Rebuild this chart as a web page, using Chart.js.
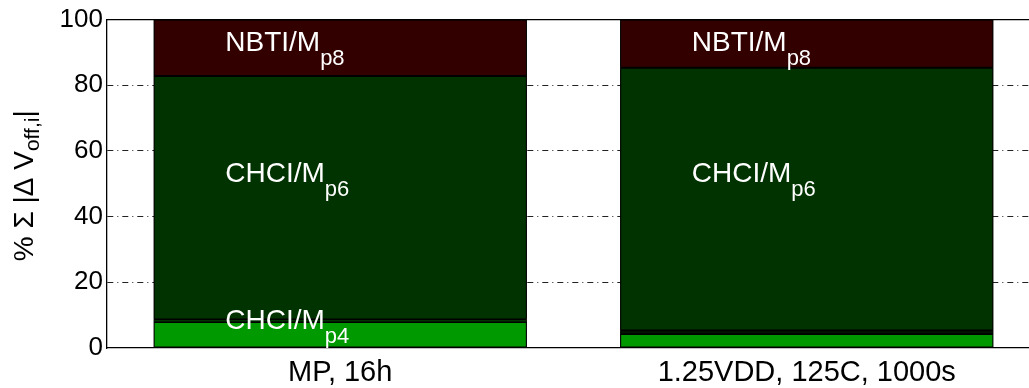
<!DOCTYPE html>
<html>
<head>
<meta charset="utf-8">
<script src="https://cdn.jsdelivr.net/npm/chart.js@4"></script>
<style>
  html, body { margin: 0; padding: 0; overflow: hidden; background: #fff; }
  #wrap { width: 1040px; height: 388px; }
  canvas { display: block; }
</style>
</head>
<body>
<div id="wrap"><canvas id="c" width="1040" height="388" style="width:1040px;height:388px"></canvas></div>
<script>
// Share of the summed |ΔV_off,i| per contributor, in percent
const categories = ['MP, 16h', '1.25VDD, 125C, 1000s'];
const chciMp4 = [7.9, 4.3];
const otherShare = [0.8, 1.0];
const chciMp6 = [74.1, 80.0];
const nbtiMp8 = [17.2, 14.7];
const yTicks = [0, 20, 40, 60, 80, 100];

const FONT = '"Liberation Sans", Arial, Helvetica, sans-serif';

// In-bar annotations: bar index and baseline height in axis units
const segmentLabels = [
  { bar: 0, y: 90.4, main: 'NBTI/M', sub: 'p8' },
  { bar: 1, y: 90.4, main: 'NBTI/M', sub: 'p8' },
  { bar: 0, y: 50.4, main: 'CHCI/M', sub: 'p6' },
  { bar: 1, y: 50.4, main: 'CHCI/M', sub: 'p6' },
  { bar: 0, y: 5.85, main: 'CHCI/M', sub: 'p4' }
];

const series = [chciMp4, otherShare, chciMp6, nbtiMp8];

// dark backing behind each stacked column so segment seams render as black edges
const columnBacking = {
  id: 'columnBacking',
  beforeDatasetsDraw(chart) {
    const { ctx } = chart;
    const ys = chart.scales.y;
    const meta = chart.getDatasetMeta(0);
    ctx.save();
    ctx.fillStyle = '#000';
    meta.data.forEach((bar, i) => {
      const total = series.reduce((s, arr) => s + arr[i], 0);
      const top = ys.getPixelForValue(total);
      const base = ys.getPixelForValue(0);
      ctx.fillRect(bar.x - bar.width / 2, top, bar.width, base - top);
    });
    ctx.restore();
  }
};

const decorations = {
  id: 'decorations',
  afterDatasetsDraw(chart) {
    const { ctx, chartArea: a } = chart;
    const xs = chart.scales.x, ys = chart.scales.y;

    // white segment labels with subscripts
    ctx.save();
    ctx.fillStyle = '#ffffff';
    ctx.textAlign = 'left';
    ctx.textBaseline = 'alphabetic';
    for (const l of segmentLabels) {
      const x = xs.getPixelForValue(l.bar) - 115;
      const y = ys.getPixelForValue(l.y);
      ctx.font = '28px ' + FONT;
      ctx.fillText(l.main, x, y);
      const w = ctx.measureText(l.main).width;
      ctx.font = '22px ' + FONT;
      ctx.fillText(l.sub, x + w, y + 14);
    }
    ctx.restore();

    // top frame line
    ctx.save();
    ctx.strokeStyle = '#000';
    ctx.lineWidth = 1.3;
    ctx.beginPath();
    ctx.moveTo(a.left, a.top);
    ctx.lineTo(a.right, a.top);
    ctx.stroke();
    ctx.restore();

    // rotated y-axis title: % Σ |Δ V_off,i|
    ctx.save();
    ctx.translate(33, (a.top + a.bottom) / 2 + 2);
    ctx.rotate(-Math.PI / 2);
    ctx.fillStyle = '#000';
    ctx.textBaseline = 'alphabetic';
    ctx.textAlign = 'left';
    const mainFont = '28px ' + FONT, subFont = '21px ' + FONT;
    const p1 = '% \u03A3 |\u0394 V', p2 = 'off,i', p3 = '|';
    ctx.font = mainFont; const w1 = ctx.measureText(p1).width; const w3 = ctx.measureText(p3).width;
    ctx.font = subFont; const w2 = ctx.measureText(p2).width;
    let x = -(w1 + w2 + w3) / 2;
    ctx.font = mainFont; ctx.fillText(p1, x, 0); x += w1;
    ctx.font = subFont; ctx.fillText(p2, x, 6); x += w2;
    ctx.font = mainFont; ctx.fillText(p3, x, 0);
    ctx.restore();
  }
};

const barCommon = {
  borderColor: '#000000',
  borderWidth: 1,
  borderSkipped: false,
  barPercentage: 0.8,
  categoryPercentage: 1.0
};

new Chart(document.getElementById('c'), {
  type: 'bar',
  data: {
    labels: categories,
    datasets: [
      Object.assign({}, barCommon, { label: 'CHCI/Mp4', data: chciMp4, backgroundColor: '#009900' }),
      Object.assign({}, barCommon, { label: 'Other', data: otherShare, backgroundColor: ['#003300', '#021402'], borderWidth: 0.6 }),
      Object.assign({}, barCommon, { label: 'CHCI/Mp6', data: chciMp6, backgroundColor: '#003300' }),
      Object.assign({}, barCommon, { label: 'NBTI/Mp8', data: nbtiMp8, backgroundColor: '#330000' })
    ]
  },
  options: {
    responsive: false,
    animation: false,
    devicePixelRatio: 1,
    layout: { padding: { top: 18, left: 0, right: 0, bottom: 0 } },
    plugins: { legend: { display: false }, tooltip: { enabled: false }, title: { display: false } },
    scales: {
      x: {
        stacked: true,
        grid: { display: false },
        border: { display: true, color: '#000', width: 1.3 },
        ticks: { color: '#000', font: { family: FONT, size: 29 }, padding: 0, maxRotation: 0 },
        afterFit(s) { s.height = 40; }
      },
      y: {
        stacked: true,
        min: 0,
        max: 100,
        afterBuildTicks(s) { s.ticks = yTicks.map(v => ({ value: v })); },
        grid: {
          drawTicks: false,
          lineWidth: 1,
          color: c => (c.tick && c.tick.value > 0 && c.tick.value < 100) ? '#222' : 'rgba(0,0,0,0)'
        },
        border: { display: true, color: '#000', width: 1.3, dash: [6, 4, 1, 4] },
        ticks: { color: '#000', font: { family: FONT, size: 26 }, padding: 4 },
        afterFit(s) { s.width = 107; }
      }
    }
  },
  plugins: [columnBacking, decorations]
});
</script>
</body>
</html>
